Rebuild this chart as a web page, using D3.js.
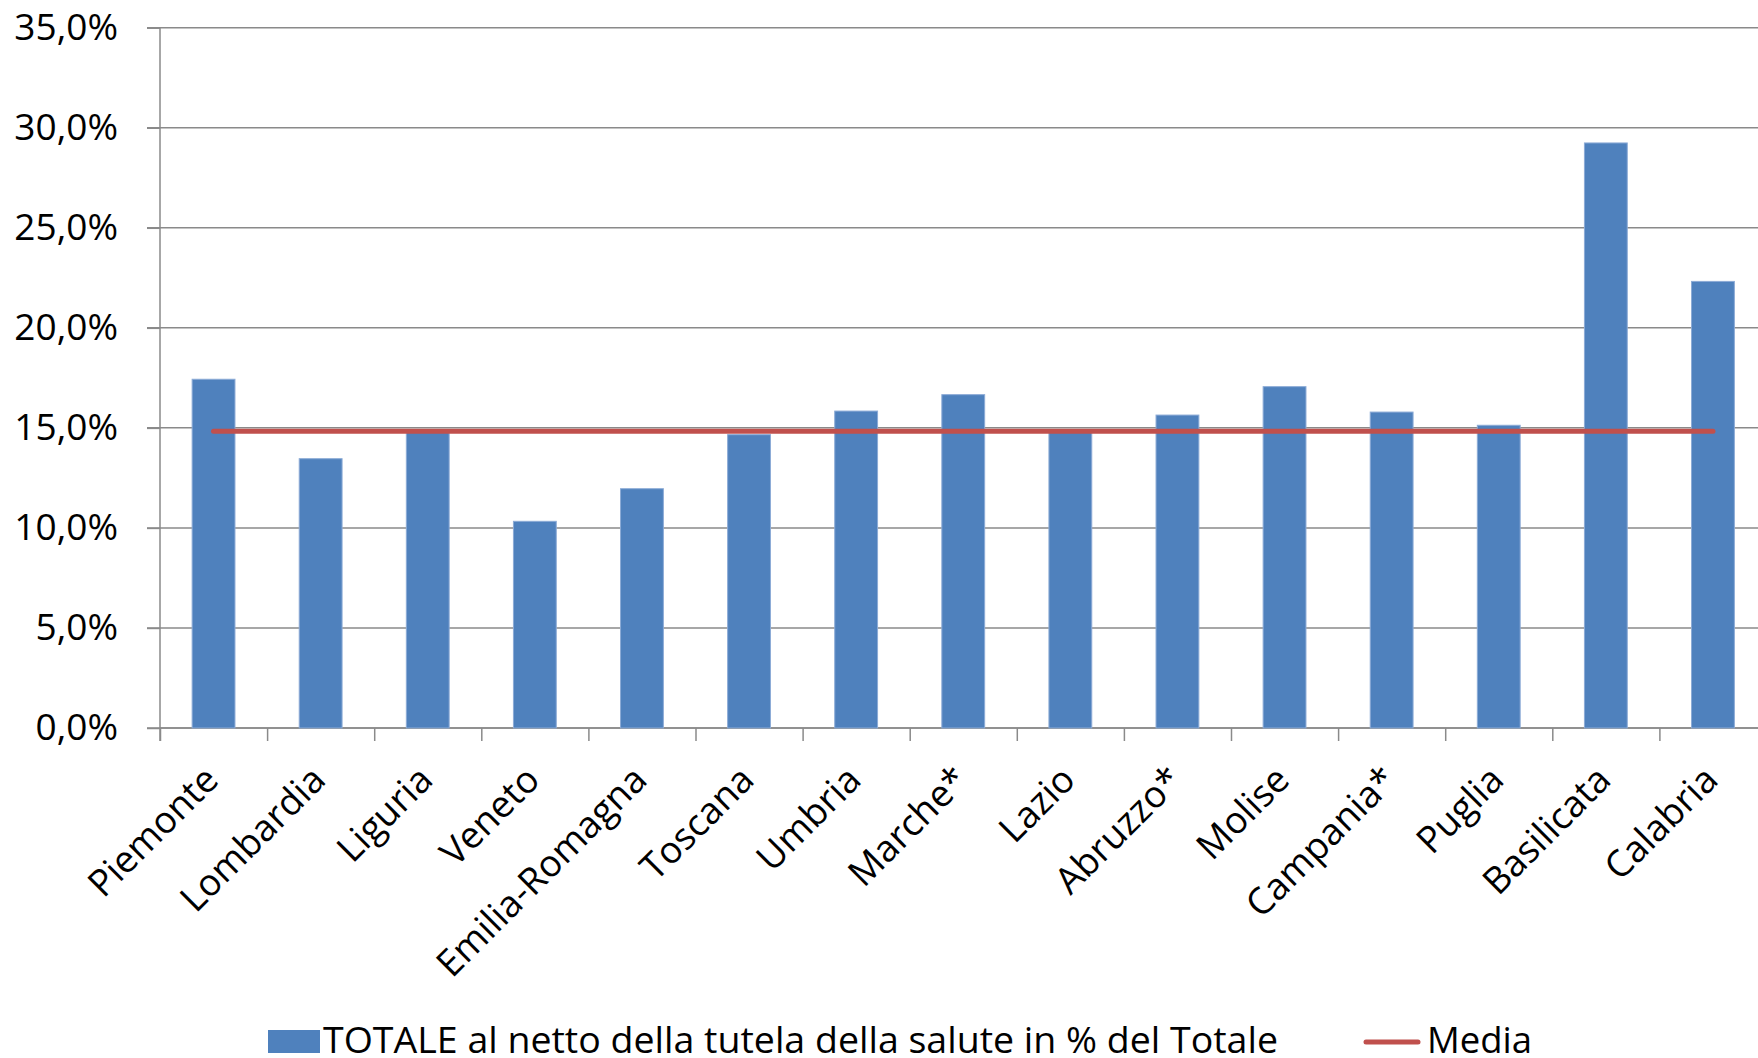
<!DOCTYPE html>
<html lang="it">
<meta charset="utf-8">
<title>TOTALE al netto della tutela della salute</title>
<style>
  body { margin: 0; background: #fff; }
  text { font-family: "Open Sans", sans-serif; fill: #000; }
</style>
<body>
<script src="https://cdn.jsdelivr.net/npm/d3@7"></script>
<script>
// data (percent)
var regions = ["Piemonte", "Lombardia", "Liguria", "Veneto", "Emilia-Romagna", "Toscana", "Umbria",
  "Marche*", "Lazio", "Abruzzo*", "Molise", "Campania*", "Puglia", "Basilicata", "Calabria"];
var totale = [17.43, 13.46, 14.9, 10.33, 11.96, 14.66, 15.84, 16.66, 14.9, 15.64, 17.06, 15.79, 15.13, 29.24, 22.32];
var media = 14.83;
var yTicks = [0, 5, 10, 15, 20, 25, 30, 35];
var seriesNames = ["TOTALE al netto della tutela della salute in % del Totale", "Media"];

var W = 1758, H = 1058;
var plotLeft = 160, plotTop = 27.7, plotBottom = 728;
var step = 107.1;

var svg = d3.select("body").append("svg")
  .attr("width", W)
  .attr("height", H);

svg.append("rect").attr("width", W).attr("height", H).attr("fill", "#fff");

var x = d3.scaleBand()
  .domain(regions)
  .range([plotLeft, plotLeft + step * regions.length])
  .paddingInner(0.6)
  .paddingOuter(0.3);

var y = d3.scaleLinear().domain([0, 35]).range([plotBottom, plotTop]);

var it = d3.formatLocale({decimal: ",", thousands: ".", grouping: [3], currency: ["", "€"]});
var fmt = it.format(".1f");

// gridlines
svg.append("g").selectAll("line")
  .data(yTicks)
  .join("line")
  .attr("x1", plotLeft - 13)
  .attr("x2", W + 20)
  .attr("y1", function(d) { return y(d); })
  .attr("y2", function(d) { return y(d); })
  .attr("stroke", "#8a8a8a")
  .attr("stroke-width", 1.5);

// y axis
var yAxis = svg.append("g")
  .attr("transform", "translate(" + plotLeft + ",0)")
  .call(d3.axisLeft(y).tickValues(yTicks).tickSize(13).tickPadding(29)
    .tickFormat(function(d) { return fmt(d) + "%"; }));
yAxis.select(".domain").remove();
yAxis.selectAll(".tick line").attr("stroke", "#8a8a8a").attr("stroke-width", 1.5);
yAxis.selectAll(".tick text")
  .attr("font-family", "Open Sans")
  .attr("font-size", 37)
  .attr("fill", "#000");

svg.append("line")
  .attr("x1", plotLeft).attr("x2", plotLeft)
  .attr("y1", y(35)).attr("y2", plotBottom + 13)
  .attr("stroke", "#8a8a8a").attr("stroke-width", 1.5);

// x axis ticks at category boundaries
var xb = d3.scaleLinear().domain([0, regions.length]).range(x.range());
var xAxis = svg.append("g")
  .attr("transform", "translate(0," + plotBottom + ")")
  .call(d3.axisBottom(xb).ticks(regions.length).tickSize(13).tickFormat(""));
xAxis.select(".domain").remove();
xAxis.selectAll(".tick line").attr("stroke", "#8a8a8a").attr("stroke-width", 1.5);

svg.append("line")
  .attr("x1", plotLeft).attr("x2", W + 20)
  .attr("y1", plotBottom).attr("y2", plotBottom)
  .attr("stroke", "#8a8a8a").attr("stroke-width", 1.5);

// bars
svg.append("g").selectAll("rect")
  .data(totale)
  .join("rect")
  .attr("x", function(d, i) { return x(regions[i]); })
  .attr("width", x.bandwidth())
  .attr("y", function(d) { return y(d); })
  .attr("height", function(d) { return plotBottom - y(d); })
  .attr("fill", "#4f81bd")
  .attr("stroke", "#8cabd6")
  .attr("stroke-width", 1);

// media line
var line = d3.line()
  .x(function(d) { return x(d) + x.bandwidth() / 2; })
  .y(function() { return y(media); });

svg.append("path")
  .datum(regions)
  .attr("d", line)
  .attr("fill", "none")
  .attr("stroke", "#c0504d")
  .attr("stroke-width", 5)
  .attr("stroke-linecap", "round");

// category labels
svg.append("g").selectAll("text")
  .data(regions)
  .join("text")
  .attr("transform", function(d) {
    return "translate(" + (x(d) + x.bandwidth() / 2 + 7) + ",782) rotate(-45)";
  })
  .attr("text-anchor", "end")
  .attr("font-size", 37)
  .text(function(d) { return d; });

// legend
var lg = svg.append("g");
lg.append("rect")
  .attr("x", 268).attr("y", 1030)
  .attr("width", 52).attr("height", 23)
  .attr("fill", "#4f81bd");
lg.append("text")
  .attr("x", 323).attr("y", 1053)
  .attr("font-size", 37)
  .attr("textLength", 955)
  .attr("lengthAdjust", "spacingAndGlyphs")
  .text(seriesNames[0]);
lg.append("line")
  .attr("x1", 1366).attr("x2", 1418)
  .attr("y1", 1042).attr("y2", 1042)
  .attr("stroke", "#c0504d")
  .attr("stroke-width", 5)
  .attr("stroke-linecap", "round");
lg.append("text")
  .attr("x", 1427).attr("y", 1053)
  .attr("font-size", 37)
  .attr("textLength", 105)
  .attr("lengthAdjust", "spacingAndGlyphs")
  .text(seriesNames[1]);
</script>
</body>
</html>
